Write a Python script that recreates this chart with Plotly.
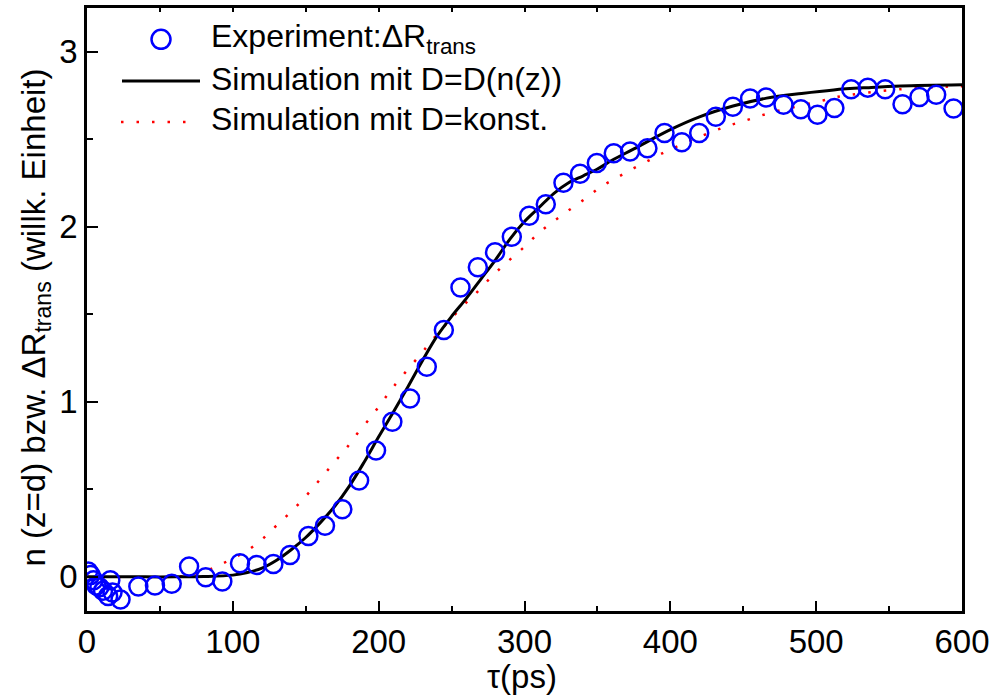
import plotly.graph_objects as go

# Measured transient reflectivity change (delay in ps, arbitrary units)
tau_exp = [0.8, 2.5, 4.5, 6.5, 8.5, 11.0, 14.5, 16.0, 17.5, 23.0,
           35.2, 46.6, 58.1, 70.0, 81.4, 92.8, 104.9, 116.4, 127.8, 139.2,
           151.8, 163.2, 175.1, 186.6, 198.2, 209.4, 221.5, 233.0, 244.7, 256.1,
           268.0, 279.8, 291.3, 303.2, 314.6, 326.7, 338.1, 349.6, 361.2, 372.4,
           384.3, 396.0, 407.9, 419.8, 431.2, 442.9, 454.7, 465.7, 477.6, 489.5,
           500.9, 512.5, 524.0, 535.4, 547.3, 559.2, 570.8, 582.3, 594.2]
dR_exp = [0.03, 0.01, -0.02, -0.05, -0.06, -0.08, -0.11, -0.02, -0.09, -0.13,
          -0.055, -0.05, -0.04, 0.059, -0.002, -0.027, 0.078, 0.068, 0.074, 0.125,
          0.233, 0.292, 0.386, 0.551, 0.722, 0.886, 1.019, 1.20, 1.41, 1.653,
          1.769, 1.854, 1.943, 2.063, 2.129, 2.252, 2.303, 2.364, 2.42, 2.43,
          2.449, 2.536, 2.483, 2.536, 2.629, 2.686, 2.733, 2.739, 2.697, 2.672,
          2.640, 2.678, 2.786, 2.795, 2.786, 2.70, 2.742, 2.754, 2.676]

# Simulation with concentration-dependent diffusion D = D(n(z))
tau_sim_var = [0, 20, 40, 60, 80, 100, 110, 120, 130, 140, 150, 160, 170, 180,
               190, 200, 210, 220, 230, 240, 250, 260, 270, 280, 290, 300, 310,
               320, 330, 340, 350, 360, 375, 400, 420, 443, 466, 490, 512, 535,
               558, 600]
n_sim_var = [0, 0, 0, 0, 0.002, 0.01, 0.025, 0.05, 0.095, 0.155, 0.225, 0.31,
             0.405, 0.52, 0.655, 0.80, 0.94, 1.085, 1.235, 1.375, 1.488, 1.59,
             1.70, 1.81, 1.93, 2.03, 2.11, 2.19, 2.25, 2.29, 2.33, 2.38, 2.445,
             2.555, 2.628, 2.69, 2.735, 2.762, 2.782, 2.795, 2.805, 2.812]

# Simulation with constant diffusion coefficient
tau_sim_const = [0, 60, 75, 87, 98, 109, 120, 130, 141, 151, 160, 169, 178, 186,
                 195, 203, 211, 229, 238, 257, 268, 278, 289, 300, 310, 321, 332,
                 343, 353, 364, 375, 386, 397, 429, 440, 451, 462, 472, 504, 515,
                 558, 591, 600]
n_sim_const = [0, 0.0, 0.015, 0.053, 0.097, 0.146, 0.214, 0.294, 0.381, 0.47,
               0.559, 0.649, 0.737, 0.826, 0.916, 1.006, 1.095, 1.274, 1.365,
               1.541, 1.631, 1.72, 1.805, 1.886, 1.966, 2.038, 2.104, 2.169,
               2.232, 2.284, 2.335, 2.382, 2.43, 2.544, 2.578, 2.606, 2.635,
               2.659, 2.72, 2.743, 2.786, 2.801, 2.803]

x_ticks = [0, 100, 200, 300, 400, 500, 600]
y_ticks = [0, 1, 2, 3]

legend_labels = ["Experiment:ΔR<sub>trans</sub>",
                 "Simulation mit D=D(n(z))",
                 "Simulation mit D=konst."]

FONT = "Liberation Sans, Arial, sans-serif"
W, H = 997, 697
ML, MR, MT, MB = 87, 35, 5, 86
PW, PH = W - ML - MR, H - MT - MB


def px_x(p):
    return (p - ML) / PW


def px_y(p):
    return (H - MB - p) / PH


fig = go.Figure()

fig.add_trace(go.Scatter(
    x=tau_sim_const, y=n_sim_const, mode="lines",
    line=dict(color="#ff0000", width=2.5, dash="2.5px,13px", shape="spline"),
    showlegend=False, hoverinfo="skip"))

fig.add_trace(go.Scatter(
    x=tau_sim_var, y=n_sim_var, mode="lines",
    line=dict(color="black", width=3, shape="spline"),
    showlegend=False, hoverinfo="skip"))

fig.add_trace(go.Scatter(
    x=tau_exp, y=dR_exp, mode="markers",
    marker=dict(symbol="circle-open", size=18, color="#0000ff",
                line=dict(width=2.5, color="#0000ff")),
    showlegend=False))

# empty trace carrying the top tick axis
fig.add_trace(go.Scatter(x=[], y=[], xaxis="x2", showlegend=False))

axis_common = dict(showgrid=False, zeroline=False, showline=True,
                   linecolor="black", linewidth=2.5, mirror=True,
                   ticks="inside", tickcolor="black", tickwidth=2,
                   tickfont=dict(family=FONT, size=33, color="black"))

fig.update_layout(
    width=W, height=H,
    margin=dict(l=ML, r=MR, t=MT, b=MB),
    plot_bgcolor="white", paper_bgcolor="white",
    font=dict(family=FONT, color="black"),
    xaxis=dict(range=[0, 600], tickvals=x_ticks, ticklen=10,
               ticklabelstandoff=0,
               minor=dict(ticks="inside", dtick=50, tick0=0, ticklen=5,
                          tickwidth=2, tickcolor="black"),
               **axis_common),
    yaxis=dict(range=[-0.195, 3.25], tickvals=y_ticks, ticklen=11,
               ticklabelstandoff=0,
               minor=dict(ticks="inside", dtick=0.5, tick0=0, ticklen=6,
                          tickwidth=2, tickcolor="black"),
               **axis_common),
    xaxis2=dict(range=[0, 600], overlaying="x", side="top", anchor="y",
                showgrid=False, zeroline=False, showline=False,
                ticks="inside", dtick=50, tick0=0, ticklen=4, tickwidth=1.5,
                tickcolor="black", showticklabels=False),
)

# Axis titles
fig.add_annotation(text="τ(ps)", xref="paper", yref="paper",
                   x=px_x(522), y=px_y(677), xanchor="center", yanchor="middle",
                   showarrow=False, font=dict(family=FONT, size=33))
fig.add_annotation(text="n (z=d) bzw. ΔR<sub>trans</sub> (willk. Einheit)",
                   xref="paper", yref="paper", textangle=-90,
                   x=px_x(36), y=px_y(316), xanchor="center", yanchor="middle",
                   showarrow=False, font=dict(family=FONT, size=33))

# Legend drawn as symbols + text
fig.add_shape(type="circle", xref="paper", yref="paper",
              xsizemode="pixel", ysizemode="pixel",
              xanchor=px_x(161), yanchor=px_y(36.5),
              x0=-9.5, x1=9.5, y0=-9.5, y1=9.5,
              line=dict(color="#0000ff", width=2.5))
fig.add_shape(type="line", xref="paper", yref="paper",
              x0=px_x(122), x1=px_x(200), y0=px_y(78.3), y1=px_y(78.3),
              line=dict(color="black", width=3))
fig.add_shape(type="line", xref="paper", yref="paper",
              x0=px_x(121), x1=px_x(190), y0=px_y(119.5), y1=px_y(119.5),
              line=dict(color="#ff0000", width=2.5, dash="2.5px,13px"))

for label, yc in zip(legend_labels, [36, 76, 117]):
    fig.add_annotation(text=label, xref="paper", yref="paper",
                       x=px_x(209), y=px_y(yc), xanchor="left",
                       yanchor="middle", showarrow=False,
                       font=dict(family=FONT, size=32))

fig.write_html("out.html")
